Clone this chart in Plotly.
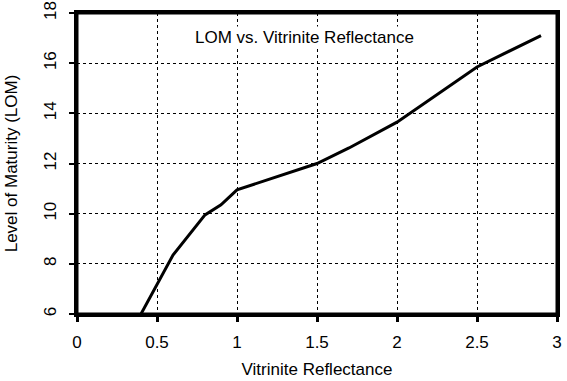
import plotly.graph_objects as go

vr = [0.4, 0.6, 0.8, 0.9, 1.0, 1.5, 1.7, 2.0, 2.5, 2.9]
lom = [6.0, 8.35, 9.95, 10.35, 10.95, 12.0, 12.62, 13.65, 15.85, 17.1]
x_ticks = [0, 0.5, 1, 1.5, 2, 2.5, 3]
x_labels = ["0", "0.5", "1", "1.5", "2", "2.5", "3"]
y_ticks = [6, 8, 10, 12, 14, 16, 18]

fig = go.Figure()
fig.add_trace(go.Scatter(x=vr, y=lom, mode="lines",
                         line=dict(color="black", width=3), showlegend=False,
                         cliponaxis=False))

fnt = dict(family="Liberation Sans, Arial, sans-serif", size=17, color="black")
fig.update_layout(
    width=567, height=381,
    margin=dict(l=77, r=10, t=13, b=67),
    paper_bgcolor="white", plot_bgcolor="white",
    font=fnt,
    xaxis=dict(range=[0, 3], tickvals=x_ticks, ticktext=x_labels, automargin=False,
               showline=True, linecolor="black", linewidth=3, mirror=True,
               ticks="outside", ticklen=5, tickwidth=3, tickcolor="black",
               showgrid=True, gridcolor="black", griddash="3px,3px", gridwidth=1,
               zeroline=False, ticklabelstandoff=6, ticklabeloverflow="allow",
               title=dict(text="Vitrinite Reflectance", font=fnt, standoff=12)),
    yaxis=dict(range=[6, 18], tickvals=y_ticks, tickangle=-90, automargin=False,
               showline=True, linecolor="black", linewidth=3, mirror=True,
               ticks="outside", ticklen=5, tickwidth=2, tickcolor="black",
               showgrid=True, gridcolor="black", griddash="3px,3px", gridwidth=1,
               zeroline=False, ticklabelstandoff=6, ticklabeloverflow="allow",
               title=dict(text="Level of Maturity (LOM)", font=fnt, standoff=20)),
    annotations=[dict(text="LOM vs. Vitrinite Reflectance", x=0.473, y=0.917,
                      xref="paper", yref="paper", showarrow=False, bgcolor="white",
                      xanchor="center", yanchor="middle", font=fnt)],
    shapes=[dict(type="rect", xref="paper", yref="paper", x0=0, x1=1, y0=0, y1=1,
                 line=dict(color="black", width=3), layer="above")],
)
fig.write_html("out.html", config={"displayModeBar": False},
               post_script="document.body.style.margin='0';document.body.style.overflow='hidden';")
